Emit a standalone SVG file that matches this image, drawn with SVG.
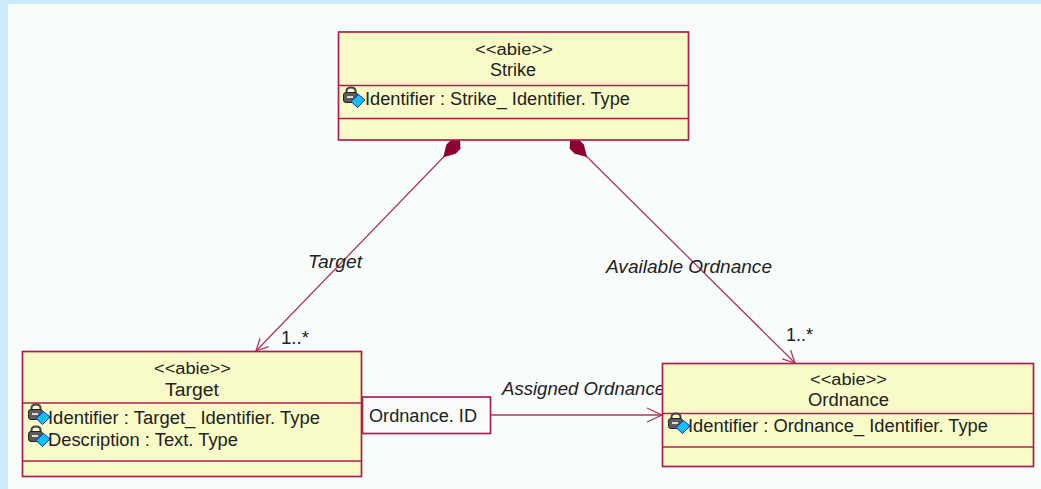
<svg xmlns="http://www.w3.org/2000/svg" width="1041" height="489" viewBox="0 0 1041 489">
<style>
text{font-family:"Liberation Sans",Arial,sans-serif;font-size:18px;fill:#222}
.i{font-style:italic}
.box{fill:#f8fbc8;stroke:#ad1f4c;stroke-width:1.700}
.div{stroke:#ad1f4c;stroke-width:1.400;fill:none}
.conn{stroke:#b3345c;stroke-width:1.300;fill:none}
.tag{fill:#f9fcfa;stroke:#ad1f4c;stroke-width:1.700}
.s{font-size:16px}
</style>
<defs>
<g id="attr">
<path d="M3.500 3V1Q3.500-2.500 8-2.500T12.500 1V3" fill="none" stroke="#444" stroke-width="2"/>
<rect x="0.500" y="2.500" width="14" height="10" rx="2.500" fill="#5c5c5c" stroke="#222" stroke-width="1"/>
<rect x="4" y="6" width="6" height="2" fill="#ddd"/>
<path d="M8 11.500L15.500 4.500L22 10L14.500 17.500Z" fill="#0fc0fb" stroke="#0b2fb0" stroke-width="1"/>
</g>
<marker id="open" viewBox="0 0 14 14" refX="13" refY="7" markerWidth="14" markerHeight="14" markerUnits="userSpaceOnUse" orient="auto">
<path d="M1 1L13 7L1 13" fill="none" stroke="#b3345c" stroke-width="1.300"/>
</marker>
<marker id="open-h" viewBox="0 0 17 18" refX="16" refY="9" markerWidth="17" markerHeight="18" markerUnits="userSpaceOnUse" orient="auto">
<path d="M1 2L16 9L1 16" fill="none" stroke="#b3345c" stroke-width="1.300"/>
</marker>
<marker id="diamond" viewBox="0 0 26 16" refX="1" refY="8" markerWidth="26" markerHeight="16" markerUnits="userSpaceOnUse" orient="auto">
<path d="M1 8L7 1.500H14L25 8L14 14.500H7Z" fill="#8e0233"/>
</marker>
</defs>
<rect width="1041" height="489" fill="#f8fcfa"/>
<rect width="1041" height="4" fill="#cdeafe"/>
<rect width="8" height="489" fill="#cdeafe"/>
<g id="connectors">
<line class="conn" x1="460" y1="140" x2="256" y2="351" marker-start="url(#diamond)" marker-end="url(#open)"/>
<line class="conn" x1="570" y1="140" x2="795" y2="363" marker-start="url(#diamond)" marker-end="url(#open)"/>
<line class="conn" x1="490" y1="415" x2="662" y2="415" marker-end="url(#open-h)"/>
<text class="i" x="308" y="268" textLength="54" lengthAdjust="spacingAndGlyphs">Target</text>
<text class="i" x="606" y="273" textLength="166" lengthAdjust="spacingAndGlyphs">Available Ordnance</text>
<text class="i" x="502" y="395" textLength="163" lengthAdjust="spacingAndGlyphs">Assigned Ordnance</text>
<text x="281" y="344" textLength="28" lengthAdjust="spacingAndGlyphs">1..*</text>
<text x="786" y="341" textLength="27" lengthAdjust="spacingAndGlyphs">1..*</text>
</g>
<g id="node-strike">
<rect class="box" x="338.500" y="32" width="350" height="108"/>
<path class="div" d="M338.500 85.500H688.500M338.500 118.500H688.500"/>
<text class="s" x="475" y="55" textLength="78" lengthAdjust="spacingAndGlyphs">&lt;&lt;abie&gt;&gt;</text>
<text x="490" y="76" textLength="46" lengthAdjust="spacingAndGlyphs">Strike</text>
<use href="#attr" x="343" y="90"/>
<text x="365" y="105" textLength="265" lengthAdjust="spacingAndGlyphs">Identifier : Strike_ Identifier. Type</text>
</g>
<g id="node-target">
<rect class="box" x="22.500" y="351.500" width="339" height="125"/>
<path class="div" d="M22.500 403H361.500M22.500 461H361.500"/>
<text class="s" x="154" y="374" textLength="77" lengthAdjust="spacingAndGlyphs">&lt;&lt;abie&gt;&gt;</text>
<text x="165" y="396" textLength="54" lengthAdjust="spacingAndGlyphs">Target</text>
<use href="#attr" x="28" y="407"/>
<text x="48" y="424" textLength="272" lengthAdjust="spacingAndGlyphs">Identifier : Target_ Identifier. Type</text>
<use href="#attr" x="28" y="429"/>
<text x="48" y="446" textLength="190" lengthAdjust="spacingAndGlyphs">Description : Text. Type</text>
</g>
<g id="node-ordnance">
<rect class="box" x="662.500" y="363.500" width="371" height="103"/>
<path class="div" d="M662.500 413.500H1033.500M662.500 447H1033.500"/>
<text class="s" x="810" y="385" textLength="77" lengthAdjust="spacingAndGlyphs">&lt;&lt;abie&gt;&gt;</text>
<text x="808" y="406" textLength="81" lengthAdjust="spacingAndGlyphs">Ordnance</text>
<use href="#attr" x="668" y="416"/>
<text x="688" y="432" textLength="300" lengthAdjust="spacingAndGlyphs">Identifier : Ordnance_ Identifier. Type</text>
</g>
<g id="tag-ordnance-id">
<rect class="tag" x="362.500" y="397" width="128" height="36.500"/>
<text x="369" y="422" textLength="108" lengthAdjust="spacingAndGlyphs">Ordnance. ID</text>
</g>
</svg>
